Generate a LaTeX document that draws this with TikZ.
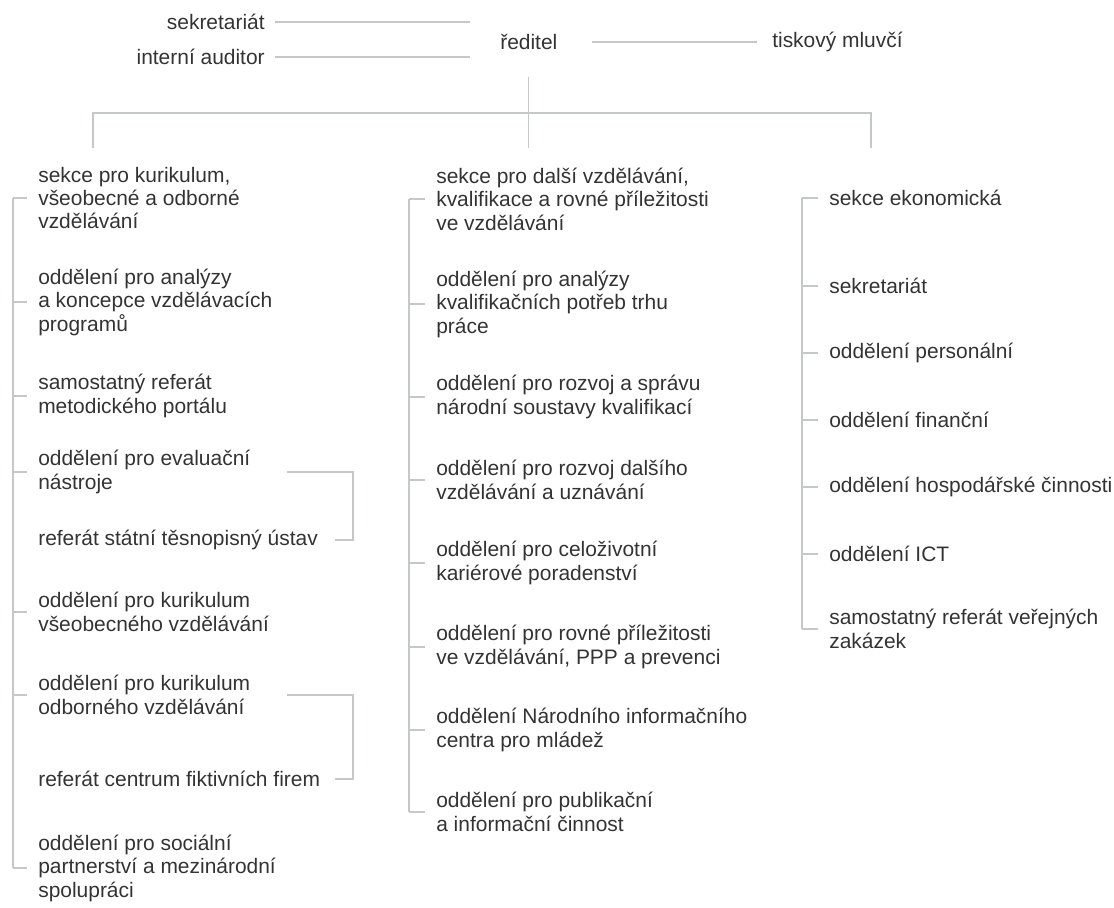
\documentclass[tikz,border=0pt]{standalone}
\usepackage{fontspec}
\setmainfont{Liberation Sans}
\usetikzlibrary{calc}
\definecolor{textgray}{HTML}{333333}
\definecolor{linegray}{HTML}{C4C8C8}
\newcommand{\orgfont}{\fontsize{14.9}{16.7}\selectfont}
\newcommand{\branch}[2]
{   \draw[conn] (#2 -| #1) -- ($(#2.west)+(-11,0)$);
}

\begin{document}
\begin{tikzpicture}[x=0.025cm,y=-0.025cm,
   dept/.style={anchor=west,align=left,inner sep=0pt,font=\orgfont,text=textgray},
   conn/.style={draw=linegray,line width=0.9pt}]

   \useasboundingbox (0,0) rectangle (1114,908);

   \node[dept,anchor=east] (sekr) at (265,22) {sekretariát};
   \node[dept,anchor=east] (audit) at (265,57) {interní auditor};
   \node[dept] (red) at (500,42) {ředitel};
   \node[dept] (tisk) at (772,42) {tiskový mluvčí};
   \draw[conn] ($(sekr.east)+(10,0)$) -- ($(sekr -| red.west)+(-30,0)$);
   \draw[conn] ($(audit.east)+(10,0)$) -- ($(audit -| red.west)+(-30,0)$);
   \draw[conn] ($(red.east)+(34,0)$) -- ($(tisk.west)+(-15,0)$);

   \coordinate (bar) at (0,113);
   \coordinate (barL) at (93,113);
   \coordinate (barR) at (871,113);
   \draw[conn] ($(red.south)+(0,27)$) -- (red.south |- bar) -- ++(0,35);
   \draw[conn] ($(barL)+(0,35)$) -- (barL) -- (barR) -- ++(0,35);

   \node[dept] (lc1) at (38,198) {sekce pro kurikulum,\\všeobecné a odborné\\vzdělávání};
   \node[dept] (lc2) at (38,302) {oddělení pro analýzy\\a koncepce vzdělávacích\\programů};
   \node[dept] (lc3) at (38,396) {samostatný referát\\metodického portálu};
   \node[dept] (lc4) at (38,472) {oddělení pro evaluační\\nástroje};
   \node[dept] (lc5) at (38,540) {referát státní těsnopisný ústav};
   \node[dept] (lc6) at (38,612) {oddělení pro kurikulum\\všeobecného vzdělávání};
   \node[dept] (lc7) at (38,695) {oddělení pro kurikulum\\odborného vzdělávání};
   \node[dept] (lc8) at (38,779) {referát centrum fiktivních firem};
   \node[dept] (lc9) at (38,868) {oddělení pro sociální\\partnerství a mezinárodní\\spolupráci};

   \coordinate (lspine) at (13,0);
   \coordinate (lbr) at (353,0);
   \draw[conn] (lc1 -| lspine) -- (lc9 -| lspine);
   \foreach \n in {lc1,lc2,lc3,lc4,lc6,lc7,lc9} {\branch{lspine}{\n}}
   \draw[conn] ($(lc4 -| lbr)+(-66,0)$) -- (lc4 -| lbr) -- (lc5 -| lbr) -- ++(-18,0);
   \draw[conn] ($(lc7 -| lbr)+(-66,0)$) -- (lc7 -| lbr) -- (lc8 -| lbr) -- ++(-18,0);

   \node[dept] (mc1) at (436,199) {sekce pro další vzdělávání,\\kvalifikace a rovné příležitosti\\ve vzdělávání};
   \node[dept] (mc2) at (436,304) {oddělení pro analýzy\\kvalifikačních potřeb trhu\\práce};
   \node[dept] (mc3) at (436,397) {oddělení pro rozvoj a správu\\národní soustavy kvalifikací};
   \node[dept] (mc4) at (436,480) {oddělení pro rozvoj dalšího\\vzdělávání a uznávání};
   \node[dept] (mc5) at (436,563) {oddělení pro celoživotní\\kariérové poradenství};
   \node[dept] (mc6) at (436,647) {oddělení pro rovné příležitosti\\ve vzdělávání, PPP a prevenci};
   \node[dept] (mc7) at (436,730) {oddělení Národního informačního\\centra pro mládež};
   \node[dept] (mc8) at (436,812) {oddělení pro publikační\\a informační činnost};

   \coordinate (mspine) at (409,0);
   \draw[conn] (mc1 -| mspine) -- (mc8 -| mspine);
   \foreach \n in {mc1,mc2,mc3,mc4,mc5,mc6,mc7,mc8} {\branch{mspine}{\n}}

   \node[dept] (rc1) at (829,198) {sekce ekonomická};
   \node[dept] (rc2) at (829,286) {sekretariát};
   \node[dept] (rc3) at (829,353) {oddělení personální};
   \node[dept] (rc4) at (829,420) {oddělení finanční};
   \node[dept] (rc5) at (829,487) {oddělení hospodářské činnosti};
   \node[dept] (rc6) at (829,554) {oddělení ICT};
   \node[dept] (rc7) at (829,629) {samostatný referát veřejných\\zakázek};

   \coordinate (rspine) at (802,0);
   \draw[conn] (rc1 -| rspine) -- (rc7 -| rspine);
   \foreach \n in {rc1,rc2,rc3,rc4,rc5,rc6,rc7} {\branch{rspine}{\n}}

\end{tikzpicture}
\end{document}
